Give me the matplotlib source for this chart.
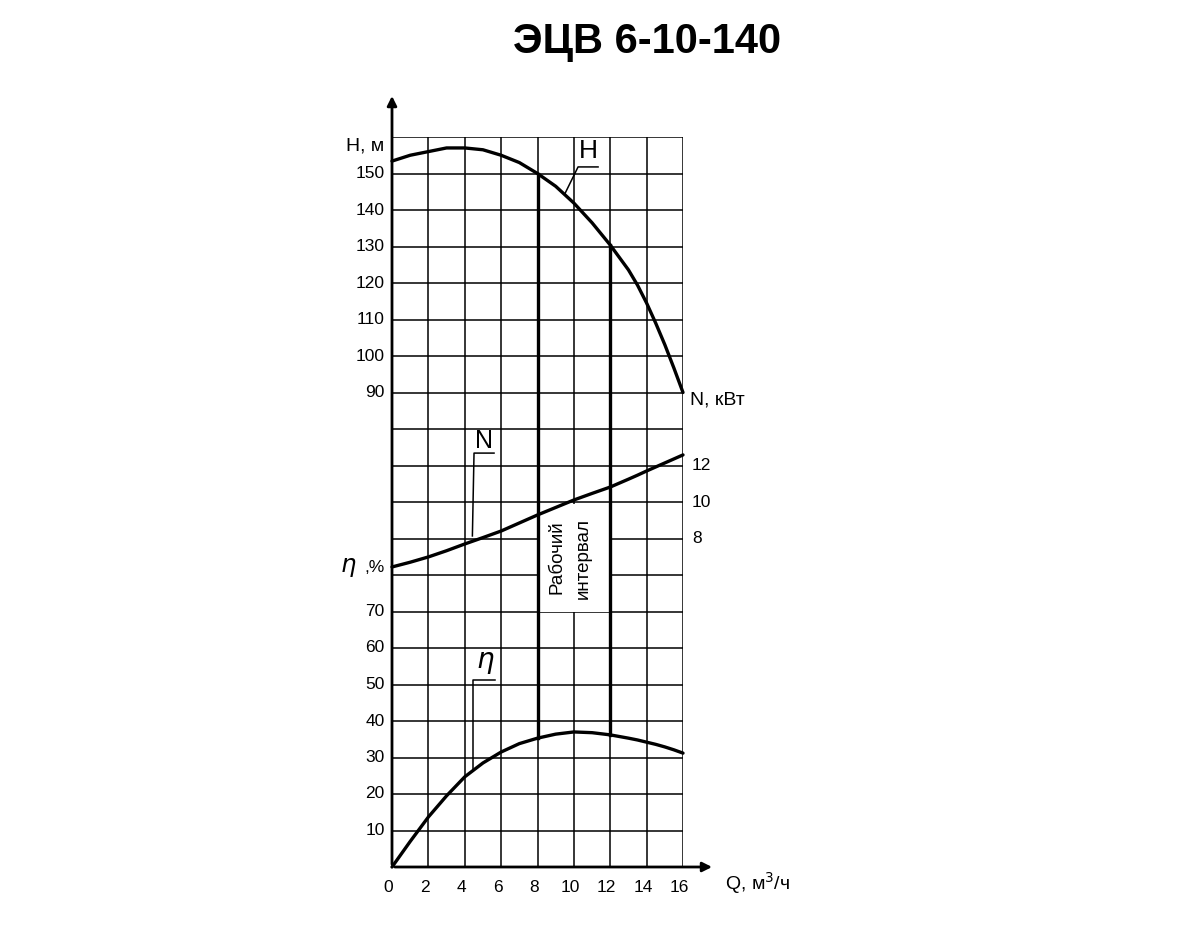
import matplotlib
matplotlib.use("Agg")
import matplotlib.pyplot as plt
import numpy as np

plt.rcParams['font.family'] = ['Liberation Sans', 'DejaVu Sans']

# Q, m3/h
q = [0, 1, 2, 3, 4, 5, 6, 7, 8, 9, 10, 11, 12, 13, 13.5, 14, 14.5, 15, 15.5, 16]
# head H, m
head = [153.4, 155, 156, 157, 157, 156.5, 155, 153, 150, 146.5, 141.9,
        136.5, 130.4, 123.6, 119.4, 114.5, 109.0, 103.1, 96.7, 90]
# power N, kW
power = [6.44, 6.7, 6.99, 7.33, 7.7, 8.05, 8.41, 8.85, 9.29, 9.7, 10.11,
         10.47, 10.82, 11.25, 11.47, 11.7, 11.92, 12.14, 12.36, 12.58]
# efficiency, %
eff = [0, 7, 13.7, 19.5, 24.7, 28.5, 31.5, 33.8, 35.3, 36.4, 37.0,
       36.8, 36.2, 35.3, 34.8, 34.2, 33.6, 32.9, 32.1, 31.2]

work_q = [8, 12]
q_ticks = [0, 2, 4, 6, 8, 10, 12, 14, 16]
h_ticks = [90, 100, 110, 120, 130, 140, 150]
eff_ticks = [10, 20, 30, 40, 50, 60, 70]
n_ticks = [8, 10, 12]


# all three scales share one grid of 20 rows
def g_head(h):
    return 13 + (np.asarray(h, float) - 90) / 10


def g_power(n):
    return 9 + (np.asarray(n, float) - 8) / 2


def g_eff(e):
    return np.asarray(e, float) / 10


fig = plt.figure(figsize=(12, 9.5), dpi=100)
ax = fig.add_axes([392 / 1200, 83 / 950, 291 / 1200, 730 / 950])
ax.set_xlim(0, 16)
ax.set_ylim(0, 20)
for s in ax.spines.values():
    s.set_visible(False)

# grid
for x in q_ticks[1:]:
    ax.axvline(x, color='black', lw=1.1, zorder=1)
for y in range(1, 21):
    ax.axhline(y, color='black', lw=1.1, zorder=1)

# axes with arrows
ax.annotate('', xy=(17.75, 0), xytext=(0, 0), annotation_clip=False,
            arrowprops=dict(arrowstyle='-|>', color='black', lw=2, mutation_scale=14))
ax.annotate('', xy=(0, 21.2), xytext=(0, 0), annotation_clip=False,
            arrowprops=dict(arrowstyle='-|>', color='black', lw=2, mutation_scale=14))

# curves
lw = 2.4
kw = dict(color='black', lw=lw, zorder=4, clip_on=False,
          solid_joinstyle='round', solid_capstyle='round')
ax.plot(q, g_head(head), **kw)
ax.plot(q, g_power(power), **kw)
ax.plot(q, g_eff(eff), **kw)

# working interval
for wq in work_q:
    top = g_head(np.interp(wq, q, head))
    bot = g_eff(np.interp(wq, q, eff))
    ax.plot([wq, wq], [bot, top], color='black', lw=lw, zorder=4)
ax.add_patch(plt.Rectangle((8.05, 7.0), 3.9, 2.95, facecolor='white',
                           edgecolor='none', zorder=2))
ax.text(9.07, 8.5, 'Рабочий', rotation=90, ha='center', va='center',
        fontsize=13.5, zorder=5)
ax.text(10.5, 8.45, 'интервал', rotation=90, ha='center', va='center',
        fontsize=13.5, zorder=5)

# curve labels with leaders
ax.text(10.78, 19.62, 'H', fontsize=19, ha='center', va='center')
ax.plot([11.33, 10.23, 9.51], [19.18, 19.18, 18.45], color='black', lw=1.1)
ax.text(5.05, 11.68, 'N', fontsize=18, ha='center', va='center')
ax.plot([5.61, 4.51, 4.42], [11.34, 11.34, 9.07], color='black', lw=1.1)
ax.text(5.15, 5.6, r'$\eta$', fontsize=20, ha='center', va='center')
ax.plot([5.66, 4.45, 4.45], [5.12, 5.12, 2.66], color='black', lw=1.1)

# left tick labels
ax.set_xticks([])
ax.set_yticks([])
fs = 12.5
for e in eff_ticks:
    ax.text(-0.4, g_eff(e), str(e), ha='right', va='center', fontsize=fs)
for h in h_ticks:
    ax.text(-0.4, g_head(h), str(h), ha='right', va='center', fontsize=fs)
ax.text(-0.4, 19.75, 'H, м', ha='right', va='center', fontsize=fs + 1.5)
ax.text(-0.4, 8.2, ',%', ha='right', va='center', fontsize=fs)
ax.text(-2.4, 8.2, r'$\eta$', ha='center', va='center', fontsize=fs + 5)

# bottom tick labels
for x in q_ticks:
    ax.text(x - 0.2, -0.55, str(x), ha='center', va='center', fontsize=fs)
ax.text(18.3, -0.45, 'Q, м$^3$/ч', ha='left', va='center', fontsize=fs + 1.5)

# right tick labels
for n in n_ticks:
    ax.text(16.5, g_power(n), str(n), ha='left', va='center', fontsize=fs)
ax.text(16.4, 12.8, 'N, кВт', ha='left', va='center', fontsize=fs + 1.5)

fig.text(647 / 1200, 1 - 42 / 950, 'ЭЦВ 6-10-140', ha='center', va='center',
         fontsize=30, fontweight='bold')

fig.savefig('out.png', dpi=100, facecolor='white')
